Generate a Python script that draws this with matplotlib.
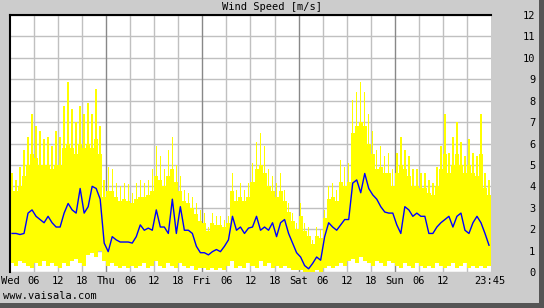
import numpy as np
import matplotlib.pyplot as plt

# hourly wind speed [m/s], Wed 00:00 .. Sun 23:00
wind_mean = [
    1.8, 1.8, 1.75, 1.8, 2.75, 2.9, 2.6, 2.45, 2.3, 2.6, 2.3, 2.1,
    2.1, 2.75, 3.2, 2.9, 2.75, 3.9, 2.75, 3.05, 4.0, 3.9, 3.4, 1.35,
    0.95, 1.65, 1.5, 1.4, 1.4, 1.4, 1.35, 1.65, 2.2, 1.95, 2.05, 1.95,
    2.9, 2.1, 2.1, 1.8, 3.4, 1.8, 3.05, 1.95, 1.95, 1.8, 1.2, 0.9,
    0.9, 0.8, 0.95, 1.05, 0.95, 1.2, 1.5, 2.6, 1.95, 2.1, 1.8, 2.05,
    2.1, 2.6, 1.95, 2.1, 1.95, 2.3, 1.65, 2.3, 2.45, 1.8, 1.35, 0.9,
    0.7, 0.3, 0.15, 0.4, 0.7, 0.55, 1.65, 2.3, 2.1, 1.95, 2.2, 2.45,
    2.45, 4.15, 4.3, 3.7, 4.6, 3.9, 3.6, 3.4, 3.05, 2.8, 2.75, 2.75,
    2.2, 1.8, 3.05, 2.9, 2.6, 2.75, 2.6, 2.6, 1.8, 1.8, 2.1, 2.3,
    2.45, 2.6, 2.1, 2.6, 2.75, 1.95, 1.8, 2.3, 2.6, 2.3, 1.8, 1.25,
]
# peak gusts in each hour
wind_max = [
    4.6, 4.3, 4.9, 5.7, 6.3, 7.4, 6.8, 6.6, 6.2, 6.3, 5.9, 6.6,
    6.3, 7.75, 8.85, 7.6, 7.0, 7.75, 7.4, 7.9, 7.4, 8.55, 6.8, 4.3,
    4.9, 4.8, 4.15, 4.0, 4.15, 4.1, 3.7, 4.15, 4.3, 4.15, 4.3, 4.8,
    5.9, 5.4, 4.8, 5.7, 6.3, 5.0, 4.5, 3.85, 3.7, 3.5, 3.2, 2.9,
    2.75, 2.1, 2.75, 2.6, 2.6, 2.45, 2.6, 4.6, 3.85, 4.15, 3.85, 4.15,
    5.1, 6.05, 6.5, 5.9, 4.8, 4.5, 4.15, 4.6, 3.85, 3.2, 2.75, 2.3,
    3.2, 2.3, 2.1, 1.5, 2.1, 1.95, 2.9, 4.0, 4.15, 3.85, 5.25, 4.9,
    5.1, 8.05, 8.4, 8.85, 8.4, 7.4, 6.6, 5.7, 5.9, 5.4, 5.55, 4.8,
    5.55, 6.3, 5.7, 5.4, 4.8, 4.8, 4.6, 4.6, 4.3, 4.15, 4.9, 5.9,
    7.4, 5.55, 6.3, 7.0, 6.05, 5.4, 6.2, 5.55, 5.4, 7.4, 4.6, 4.3,
]
# typical upper level of the gusts (dense part of the band)
wind_upper = [
    3.8, 3.8, 4.0, 4.5, 5.0, 5.5, 5.3, 5.0, 5.0, 5.0, 4.8, 5.0,
    5.0, 5.8, 6.0, 5.8, 5.5, 6.0, 5.8, 6.0, 5.8, 6.2, 5.5, 3.5,
    3.8, 3.8, 3.5, 3.3, 3.4, 3.3, 3.2, 3.4, 3.5, 3.5, 3.6, 3.8,
    4.5, 4.3, 4.0, 4.5, 4.8, 4.2, 3.8, 3.3, 3.2, 3.0, 2.7, 2.4,
    2.3, 1.9, 2.3, 2.2, 2.2, 2.1, 2.3, 3.8, 3.3, 3.5, 3.3, 3.5,
    4.2, 4.8, 5.0, 4.6, 4.0, 3.8, 3.5, 3.8, 3.3, 2.8, 2.4, 2.0,
    2.6, 1.9, 1.7, 1.3, 1.7, 1.6, 2.5, 3.4, 3.5, 3.3, 4.2, 4.0,
    4.2, 6.5, 6.8, 7.0, 6.8, 6.0, 5.5, 4.8, 4.9, 4.6, 4.6, 4.0,
    4.6, 5.0, 4.8, 4.5, 4.0, 4.0, 3.9, 3.9, 3.7, 3.6, 4.0, 4.8,
    5.5, 4.6, 5.0, 5.5, 5.0, 4.6, 5.0, 4.6, 4.5, 5.5, 3.9, 3.6,
]
wind_min = [
    0.4, 0.3, 0.5, 0.4, 0.3, 0.2, 0.4, 0.3, 0.5, 0.3, 0.4, 0.3,
    0.2, 0.4, 0.3, 0.5, 0.6, 0.4, 0.3, 0.8, 0.9, 0.7, 1.0, 0.5,
    0.3, 0.4, 0.3, 0.2, 0.3, 0.2, 0.3, 0.2, 0.3, 0.4, 0.2, 0.3,
    0.5, 0.3, 0.2, 0.4, 0.3, 0.2, 0.4, 0.3, 0.2, 0.3, 0.1, 0.2,
    0.2, 0.1, 0.2, 0.1, 0.2, 0.1, 0.3, 0.5, 0.2, 0.3, 0.2, 0.4,
    0.3, 0.2, 0.5, 0.3, 0.4, 0.2, 0.3, 0.2, 0.3, 0.2, 0.1, 0.1,
    0.1, 0.0, 0.0, 0.0, 0.1, 0.0, 0.2, 0.3, 0.2, 0.3, 0.4, 0.3,
    0.5, 0.6, 0.4, 0.7, 0.5, 0.4, 0.3, 0.5, 0.4, 0.3, 0.5, 0.4,
    0.3, 0.2, 0.4, 0.3, 0.2, 0.4, 0.3, 0.2, 0.3, 0.2, 0.4, 0.3,
    0.2, 0.3, 0.4, 0.2, 0.3, 0.4, 0.2, 0.3, 0.2, 0.3, 0.2, 0.3,
]
tick_hours = [0, 6, 12, 18, 24, 30, 36, 42, 48, 54, 60, 66,
              72, 78, 84, 90, 96, 102, 108, 119.75]
tick_labels = ["Wed", "06", "12", "18", "Thu", "06", "12", "18",
               "Fri", "06", "12", "18", "Sat", "06", "12", "18",
               "Sun", "06", "12", "23:45"]

plt.rcParams['font.family'] = 'DejaVu Sans Mono'
W, H = 544, 308
fig = plt.figure(figsize=(W / 100, H / 100), dpi=100, facecolor='#cccccc')
ax = fig.add_axes([10 / W, (H - 272) / H, 481 / W, 257 / H])
ax.set_facecolor('white')

hours = np.arange(len(wind_mean))
lo = np.array(wind_min)
up = np.array(wind_upper)
hi = np.array(wind_max)
ax.bar(hours, up - lo, bottom=lo, width=1.0, align='edge',
       color='#ffff00', linewidth=0, zorder=2)
# single gust spikes above the dense band
ax.bar(hours + 0.5, hi - up, bottom=up, width=0.35,
       color='#ffff00', linewidth=0, zorder=2)
ax.plot(hours + 0.5, wind_mean, color='#0000ff', lw=1.0, zorder=3)

ax.set_xlim(0, 120)
ax.set_ylim(0, 12)
ax.set_yticks(range(13))
ax.yaxis.tick_right()
ax.tick_params(axis='y', length=0, pad=32, labelsize=7.5)
for lab in ax.get_yticklabels():
    lab.set_ha('right')
ax.set_xticks(tick_hours)
ax.set_xticklabels(tick_labels)
ax.tick_params(axis='x', length=0, pad=3, labelsize=7.5)

# grid: light every unit / 6 h, darker at day boundaries
for v in range(13):
    ax.axhline(v, color='#c0c0c0', lw=1, zorder=1.5)
for h in range(6, 120, 6):
    ax.axvline(h, color='#888888' if h % 24 == 0 else '#c0c0c0', lw=1, zorder=1.5)

for s in ['right', 'bottom']:
    ax.spines[s].set_visible(False)
for s in ['left', 'top']:
    ax.spines[s].set_color('black')
    ax.spines[s].set_linewidth(1.5)

fig.text(272 / W, 1 - 7 / H, "Wind Speed [m/s]", ha='center', va='center', fontsize=7.5)
fig.text(3 / W, 1 - 296 / H, "www.vaisala.com", ha='left', va='center', fontsize=7.5)
fig.add_artist(plt.Rectangle((539 / W, 0), 5 / W, 1, transform=fig.transFigure,
                             color='#555555', lw=0))
fig.add_artist(plt.Rectangle((0, 0), 1, 5 / H, transform=fig.transFigure,
                             color='#555555', lw=0))

fig.savefig('out.png', dpi=100, facecolor=fig.get_facecolor())
